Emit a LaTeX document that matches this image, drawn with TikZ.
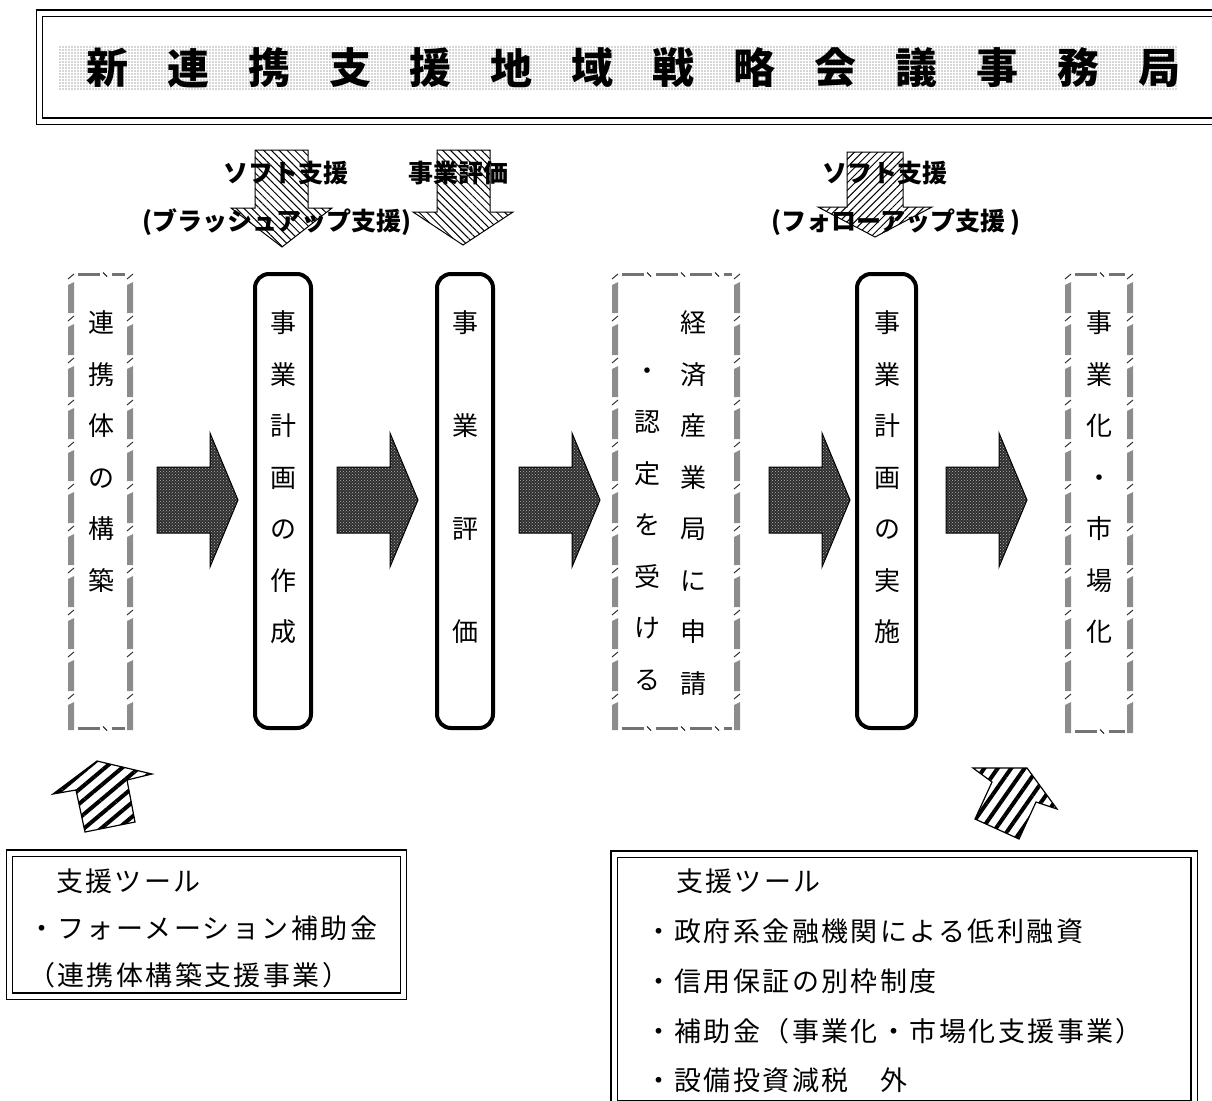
\documentclass[tikz,border=0pt]{standalone}
\usepackage{fontspec}
\newfontfamily\jp{Noto Sans CJK JP}
\usetikzlibrary{patterns,patterns.meta}
\newcommand\fsz[2]{\fontsize{#1}{#2}\selectfont}
% decorative (gray dashed) frame: x1 y1 x2 y2 (outer edges)
\newcommand\decobox[4]{%
  \pgfmathtruncatemacro\nseg{floor((#4-#2-24)/42)}%
  \foreach \sx in {#1+3,#3-3}{%
    \foreach \k in {0,...,\nseg}{%
      \pgfmathsetmacro\sy{#2+42*\k}%
      \pgfmathsetmacro\sye{min(\sy+40,#4)}%
      \draw[line width=1pt,black!80] ({\sx-3},{\sy+6}) -- ({\sx+3},{\sy+1});
      \fill[black!45] ({\sx-3},{\sy+12}) -- ({\sx+3},{\sy+9}) -- ({\sx+3},{\sye}) -- ({\sx-3},{\sye}) -- cycle;
    }}%
  \pgfmathtruncatemacro\nh{floor((#3-#1-22)/34)}%
  \foreach \hy in {#2+1.5,#4-1.5}{%
    \foreach \k in {0,...,\nh}{%
      \pgfmathsetmacro\hx{#1+10+34*\k}%
      \pgfmathsetmacro\hxe{min(\hx+22,#3-8)}%
      \fill[black!55] (\hx,{\hy-1.5}) rectangle (\hxe,{\hy+1.5});
      \pgfmathtruncatemacro\okslash{(\hx+27<#3-8)?1:0}%
      \ifnum\okslash=1 \draw[line width=1pt] ({\hx+25},{\hy-2}) -- ({\hx+29},{\hy+2});\fi
    }}%
}
\tikzset{
  every node/.style={inner sep=0pt, outer sep=0pt},
  vtext/.style={align=center, font=\jp\fsz{26}{51.5}},
  rbox/.style={draw, line width=4pt, rounded corners=14pt, anchor=north west},
  ghost/.style={draw=none, anchor=north west},
  dblframe/.style={draw, double, double distance=5pt, line width=1.4pt, anchor=north west},
  barrow/.style={draw, line width=1pt, preaction={fill=black!82}, pattern=crosshatch dots, pattern color=white!70!black},
  hatchNW/.style={draw, line width=1pt, preaction={fill=white}, pattern={Lines[angle=-45,distance=5.5pt,line width=1pt]}},
  hatchNE/.style={draw, line width=1pt, preaction={fill=white}, pattern={Lines[angle=45,distance=5.5pt,line width=1pt]}},
  stripes/.style={draw, line width=1.2pt, preaction={fill=white}, pattern={Lines[angle=#1,distance=11pt,line width=4pt]}},
  titlech/.style={font=\jp\bfseries\fsz{42}{46}},
  toplabel/.style={font=\jp\bfseries\fsz{25}{30}},
  tooltext/.style={font=\jp\fsz{27}{30}\addfontfeature{LetterSpace=9}, anchor=west},
}
\begin{document}
\begin{tikzpicture}[x=1pt,y=-1pt]
\useasboundingbox (0,0) rectangle (1212,1100);
% ---------- title ----------
\node[dblframe, minimum width=1220pt, minimum height=108pt] (titleframe) at (39.5,13) {};
\node[ghost, minimum width=1118pt, minimum height=45pt, pattern={Dots[radius=0.6pt,distance=3pt]}, pattern color=black!70] (band) at (59,45) {};
\foreach \c [count=\i from 0] in {新,連,携,支,援,地,域,戦,略,会,議,事,務,局}
  \node[titlech] (t\i) at ({1159-80.9*(13-\i)},68) {\c};
% ---------- top support arrows ----------
\path[hatchNW] (255,150) -- (308,150) -- (308,208) -- (332,208) -- (282,247) -- (231,208) -- (255,208) -- cycle;
\path[hatchNW] (437,150) -- (490,150) -- (490,212) -- (513,212) -- (463,245) -- (413,212) -- (437,212) -- cycle;
\path[hatchNE] (847,152) -- (903,152) -- (903,207) -- (932,207) -- (875,237) -- (818,207) -- (847,207) -- cycle;
\node[toplabel] (l1) at (286,173) {ソフト支援};
\node[toplabel] (l2) at (458,173) {事業評価};
\node[toplabel] (l3) at (277,222) {(ブラッシュアップ支援)};
\node[toplabel] (l4) at (885,173) {ソフト支援};
\node[toplabel] (l5) at (896,222) {(フォローアップ支援 )};
% ---------- step boxes ----------
\node[ghost, minimum width=65pt, minimum height=457pt] (b1) at (68,273) {};
\decobox{68}{273}{133}{730}
\node[vtext] (s1) at (101,451.5) {連\\携\\体\\の\\構\\築};
\node[rbox, minimum width=56pt, minimum height=454pt] (b2) at (255,274) {};
\node[vtext] (s2) at (283,477.5) {事\\業\\計\\画\\の\\作\\成};
\node[rbox, minimum width=56pt, minimum height=454pt] (b3) at (437,274) {};
\node[vtext, font=\jp\fsz{26}{103}] (s3) at (465,477.5) {事\\業\\評\\価};
\node[ghost, minimum width=128pt, minimum height=457pt] (b4) at (612,273) {};
\decobox{612}{273}{740}{730}
\node[vtext] (s4a) at (693,503) {経\\済\\産\\業\\局\\に\\申\\請};
\node[vtext] (s4b) at (647,529) {・\\認\\定\\を\\受\\け\\る};
\node[rbox, minimum width=59pt, minimum height=454pt] (b5) at (857,274) {};
\node[vtext] (s5) at (887,477.5) {事\\業\\計\\画\\の\\実\\施};
\node[ghost, minimum width=68pt, minimum height=460pt] (b6) at (1065,273) {};
\decobox{1065}{273}{1133}{733}
\node[vtext] (s6) at (1099,477.5) {事\\業\\化\\・\\市\\場\\化};
% ---------- flow arrows ----------
\foreach \x in {157,337,519,769,946}
  \path[barrow] (\x,467) -- (\x+53,467) -- (\x+53,433) -- (\x+81,500) -- (\x+53,567) -- (\x+53,533) -- (\x,533) -- cycle;
% ---------- tool arrows ----------
\path[stripes=40] (97,761) -- (152,774) -- (127,780) -- (135,822) -- (85,832) -- (76,790) -- (53,794) -- cycle;
\path[stripes=55] (1027,768) -- (1057,809) -- (1036,802) -- (1019,839) -- (975,819) -- (992,782) -- (973,768) -- cycle;
% ---------- tool boxes ----------
\node[dblframe, minimum width=394pt, minimum height=143pt] (boxL) at (9.5,853) {};
\node[tooltext] (tl1) at (56,881) {支援ツール};
\node[tooltext] (tl2) at (28,928) {・フォーメーション補助金};
\node[tooltext] (tl3) at (28,975) {（連携体構築支援事業）};
\node[dblframe, minimum width=580pt, minimum height=250pt] (boxR) at (614,854) {};
\node[tooltext] (tr1) at (676,881) {支援ツール};
\node[tooltext] (tr2) at (645,931) {・政府系金融機関による低利融資};
\node[tooltext] (tr3) at (645,981) {・信用保証の別枠制度};
\node[tooltext] (tr4) at (645,1031) {・補助金（事業化・市場化支援事業）};
\node[tooltext] (tr5) at (645,1080) {・設備投資減税　外};
\end{tikzpicture}
\end{document}
